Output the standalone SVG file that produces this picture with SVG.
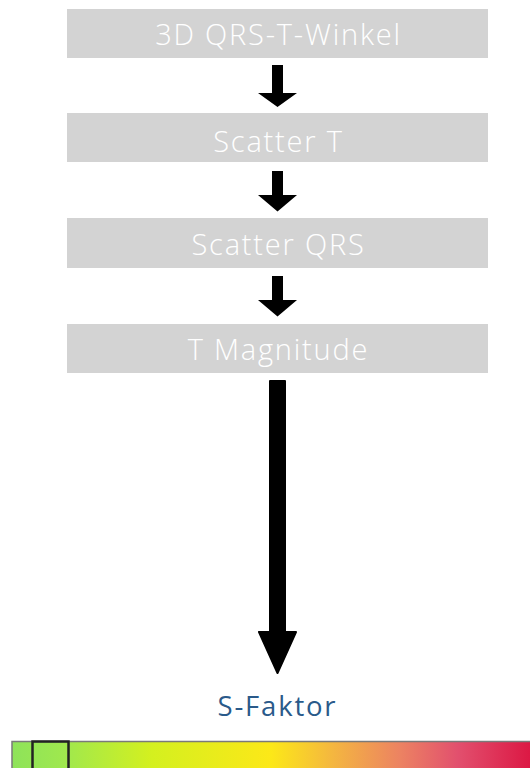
<svg xmlns="http://www.w3.org/2000/svg" width="530" height="768" viewBox="0 0 530 768">
  <defs>
    <linearGradient id="scale" x1="12" y1="0" x2="530" y2="0" gradientUnits="userSpaceOnUse">
      <stop offset="0" stop-color="#8ee35a"/>
      <stop offset="0.1" stop-color="#9fe84e"/>
      <stop offset="0.27" stop-color="#d4f01f"/>
      <stop offset="0.5" stop-color="#fce818"/>
      <stop offset="0.62" stop-color="#f4b640"/>
      <stop offset="0.75" stop-color="#ec8262"/>
      <stop offset="0.86" stop-color="#e2506e"/>
      <stop offset="1" stop-color="#dc1844"/>
    </linearGradient>
  </defs>
  <style>
    .box { fill: #d3d3d3; }
    .label { fill: #ffffff; font-family: "Open Sans", "Liberation Sans", sans-serif; font-weight: 300; font-size: 29px; letter-spacing: 1.8px; text-anchor: middle; }
    .arrow { fill: #000000; }
    .result { fill: #2a5a8a; font-family: "Open Sans", "Liberation Sans", sans-serif; font-size: 27.5px; letter-spacing: 1.8px; text-anchor: middle; }
  </style>

  <g id="node-winkel">
    <rect class="box" x="67" y="9" width="421" height="49"/>
    <text class="label" x="278.5" y="45">3D QRS-T-Winkel</text>
  </g>
  <g id="node-scatter-t">
    <rect class="box" x="67" y="113" width="421" height="49"/>
    <text class="label" x="278.5" y="151.5">Scatter T</text>
  </g>
  <g id="node-scatter-qrs">
    <rect class="box" x="67" y="218" width="421" height="50"/>
    <text class="label" x="278.5" y="255">Scatter QRS</text>
  </g>
  <g id="node-t-magnitude">
    <rect class="box" x="67" y="324" width="421" height="49"/>
    <text class="label" x="278.5" y="360">T Magnitude</text>
  </g>

  <g id="connectors">
    <path class="arrow" d="M272,65 H283 V93 H297 L277.5,107 L258,93 H272 Z"/>
    <path class="arrow" d="M272,171 H283 V195 H297 L277.5,211.5 L258,195 H272 Z"/>
    <path class="arrow" d="M272,276 H283 V300 H297 L277.5,316.5 L258,300 H272 Z"/>
    <path class="arrow" d="M270,381 H285 V632 H296 L277.5,673 L259,632 H270 Z" stroke="#000" stroke-width="2" stroke-linejoin="round"/>
  </g>

  <g id="node-s-faktor">
    <text class="result" x="277.5" y="716">S-Faktor</text>
  </g>

  <g id="scale-bar">
    <rect x="12" y="741.5" width="530" height="40" fill="url(#scale)" stroke="#7a7a7a" stroke-width="1.5"/>
    <rect x="32.5" y="741.5" width="36" height="40" fill="none" stroke="#222222" stroke-width="2.5"/>
  </g>
</svg>
